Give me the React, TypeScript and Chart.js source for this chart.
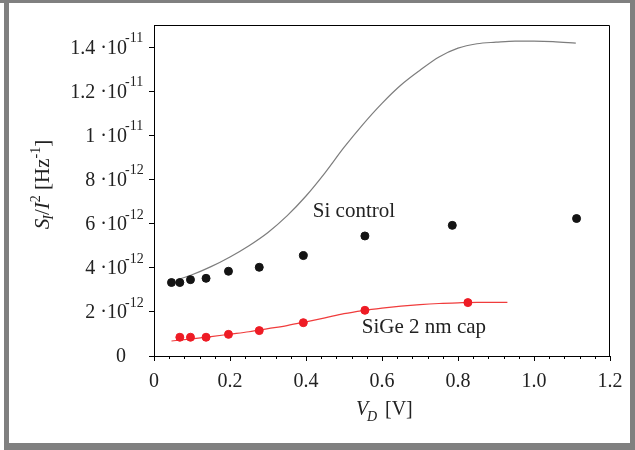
import React, { useEffect, useRef } from 'react';
import { Chart, registerables } from 'chart.js';

Chart.register(...registerables);

// Values in units of 1e-12 Hz^-1, V_D in volts
const siDotsV = [0.046, 0.068, 0.096, 0.137, 0.196, 0.277, 0.393, 0.555, 0.785, 1.112];
const siDotsS = [3.33, 3.33, 3.46, 3.52, 3.84, 4.02, 4.55, 5.44, 5.92, 6.23];

const sigeDotsV = [0.068, 0.096, 0.137, 0.196, 0.277, 0.393, 0.555, 0.826];
const sigeDotsS = [0.85, 0.85, 0.85, 0.98, 1.15, 1.51, 2.07, 2.42];

const siModelV = [0.06, 0.1, 0.15, 0.2, 0.25, 0.3, 0.35, 0.4, 0.45, 0.5, 0.55, 0.6, 0.65, 0.7, 0.75, 0.8, 0.85, 0.9, 0.95, 1.0, 1.05, 1.11];
const siModelS = [3.45, 3.68, 4.05, 4.49, 5.0, 5.6, 6.35, 7.25, 8.3, 9.45, 10.5, 11.45, 12.28, 12.95, 13.55, 13.95, 14.15, 14.22, 14.27, 14.27, 14.25, 14.18];

const sigeModelV = [0.046, 0.1, 0.15, 0.2, 0.25, 0.3, 0.35, 0.4, 0.45, 0.5, 0.55, 0.6, 0.65, 0.7, 0.75, 0.8, 0.85, 0.93];
const sigeModelS = [0.68, 0.78, 0.88, 0.99, 1.1, 1.24, 1.38, 1.55, 1.73, 1.92, 2.06, 2.17, 2.26, 2.33, 2.38, 2.41, 2.43, 2.43];

const xTickValues = [0, 0.2, 0.4, 0.6, 0.8, 1.0, 1.2];
const xTickLabels = ['0', '0.2', '0.4', '0.6', '0.8', '1.0', '1.2'];
const yTickValues = [0, 2, 4, 6, 8, 10, 12, 14];
const yTickMain = ['0', '2 ·10', '4 ·10', '6 ·10', '8 ·10', '1 ·10', '1.2 ·10', '1.4 ·10'];
const yTickExp = ['', '-12', '-12', '-12', '-12', '-11', '-11', '-11'];

const FONT = '"Liberation Serif", "Times New Roman", serif';

const pts = (xs: number[], ys: number[]) => xs.map((v, i) => ({ x: v, y: ys[i] }));

const decor = {
  id: 'decor',
  beforeDraw(chart: any) {
    const ctx = chart.ctx;
    ctx.save();
    ctx.fillStyle = '#ffffff';
    ctx.fillRect(0, 0, chart.width, chart.height);
    ctx.fillStyle = '#808080';
    ctx.fillRect(0, 0, 635, 3);
    ctx.fillRect(4, 0, 5, 450);
    ctx.fillRect(630, 0, 5, 450);
    ctx.fillRect(4, 443, 631, 7);
    ctx.restore();
  },
  afterDraw(chart: any) {
    const ctx = chart.ctx;
    const { left, top, right, bottom } = chart.chartArea;
    const x = chart.scales.x;
    const y = chart.scales.y;
    ctx.save();
    // frame top and right
    ctx.strokeStyle = '#000';
    ctx.lineWidth = 1;
    ctx.beginPath();
    ctx.moveTo(Math.round(left), Math.round(top) + 0.5);
    ctx.lineTo(Math.round(right) - 0.5, Math.round(top) + 0.5);
    ctx.lineTo(Math.round(right) - 0.5, Math.round(bottom));
    ctx.stroke();
    // minor x ticks
    ctx.beginPath();
    for (let k = 1; k < 30; k++) {
      if (k % 5 === 0) continue;
      const px = Math.round(x.getPixelForValue(k * 0.04)) + 0.5;
      ctx.moveTo(px, Math.round(bottom));
      ctx.lineTo(px, Math.round(bottom) + 3);
    }
    ctx.stroke();
    // x tick labels
    ctx.fillStyle = '#222';
    ctx.font = `20px ${FONT}`;
    ctx.textAlign = 'center';
    ctx.textBaseline = 'alphabetic';
    xTickValues.forEach((v, i) => {
      ctx.fillText(xTickLabels[i], x.getPixelForValue(v), 387);
    });
    // y tick labels
    yTickValues.forEach((v, i) => {
      const py = y.getPixelForValue(v);
      ctx.font = `20px ${FONT}`;
      ctx.textAlign = 'right';
      if (yTickExp[i] === '') {
        ctx.fillText(yTickMain[i], 126, py + 5.5);
      } else {
        ctx.fillText(yTickMain[i], 127, py + 6.5);
        ctx.font = `14px ${FONT}`;
        ctx.textAlign = 'left';
        ctx.fillText(yTickExp[i], 125, py - 5);
      }
    });
    // annotations
    ctx.font = `21px ${FONT}`;
    ctx.textAlign = 'left';
    ctx.fillText('Si control', x.getPixelForValue(0.418), y.getPixelForValue(6.28));
    ctx.fillText('SiGe 2 nm cap', x.getPixelForValue(0.547), y.getPixelForValue(1.03));
    // x title
    ctx.font = `italic 20px ${FONT}`;
    ctx.fillText('V', 356, 415);
    ctx.font = `italic 14px ${FONT}`;
    ctx.fillText('D', 367, 421);
    ctx.font = `20px ${FONT}`;
    ctx.fillText('[V]', 385, 415);
    // y title (rotated)
    const parts: [string, string, number][] = [
      ['S', `italic 21px ${FONT}`, 0],
      ['I', `italic 14px ${FONT}`, 4],
      ['/', `21px ${FONT}`, 0],
      ['I', `italic 21px ${FONT}`, 0],
      ['2', `14px ${FONT}`, -9],
      [' [Hz', `21px ${FONT}`, 0],
      ['-1', `14px ${FONT}`, -9],
      [']', `21px ${FONT}`, 0],
    ];
    let total = 0;
    const widths = parts.map(([t, f]) => {
      ctx.font = f;
      const w = ctx.measureText(t).width;
      total += w;
      return w;
    });
    ctx.translate(49, 184);
    ctx.rotate(-Math.PI / 2);
    let u = -total / 2;
    parts.forEach(([t, f, dv], i) => {
      ctx.font = f;
      ctx.fillText(t, u, dv);
      u += widths[i] + (i === 0 ? -1 : 0);
    });
    ctx.restore();
  },
};

export default function App() {
  const ref = useRef<HTMLCanvasElement | null>(null);
  useEffect(() => {
    if (!ref.current) return;
    const chart = new Chart(ref.current, {
      type: 'scatter',
      data: {
        datasets: [
          {
            type: 'line',
            data: pts(siModelV, siModelS),
            borderColor: '#7d7d7d',
            borderWidth: 1.2,
            pointRadius: 0,
            cubicInterpolationMode: 'monotone',
            fill: false,
            order: 3,
          } as any,
          {
            type: 'line',
            data: pts(sigeModelV, sigeModelS),
            borderColor: '#f03c3c',
            borderWidth: 1.2,
            pointRadius: 0,
            cubicInterpolationMode: 'monotone',
            fill: false,
            order: 2,
          } as any,
          {
            data: pts(siDotsV, siDotsS),
            backgroundColor: '#141414',
            borderColor: '#141414',
            pointRadius: 4,
            order: 1,
          },
          {
            data: pts(sigeDotsV, sigeDotsS),
            backgroundColor: '#ee1c25',
            borderColor: '#ee1c25',
            pointRadius: 4,
            order: 0,
          },
        ],
      },
      options: {
        animation: false,
        responsive: false,
        devicePixelRatio: 1,
        layout: { padding: { top: 25, right: 25, left: 0, bottom: 0 } },
        plugins: { legend: { display: false }, tooltip: { enabled: false } },
        scales: {
          x: {
            type: 'linear',
            min: 0,
            max: 1.2,
            afterFit: (s: any) => { s.height = 94; },
            ticks: { display: false, stepSize: 0.2 },
            grid: { drawOnChartArea: false, drawTicks: true, tickLength: 5, color: '#000' },
            border: { display: true, color: '#000', width: 1 },
          },
          y: {
            type: 'linear',
            min: 0,
            max: 15,
            afterFit: (s: any) => { s.width = 154; },
            ticks: { display: false, stepSize: 2, includeBounds: false },
            grid: { drawOnChartArea: false, drawTicks: true, tickLength: 5, color: '#000' },
            border: { display: true, color: '#000', width: 1 },
          },
        },
      },
      plugins: [decor],
    });
    return () => chart.destroy();
  }, []);
  return (
    <div style={{ position: 'absolute', left: 0, top: 0, width: 635, height: 450 }}>
      <canvas ref={ref} width={635} height={450} style={{ display: 'block' }} />
    </div>
  );
}
